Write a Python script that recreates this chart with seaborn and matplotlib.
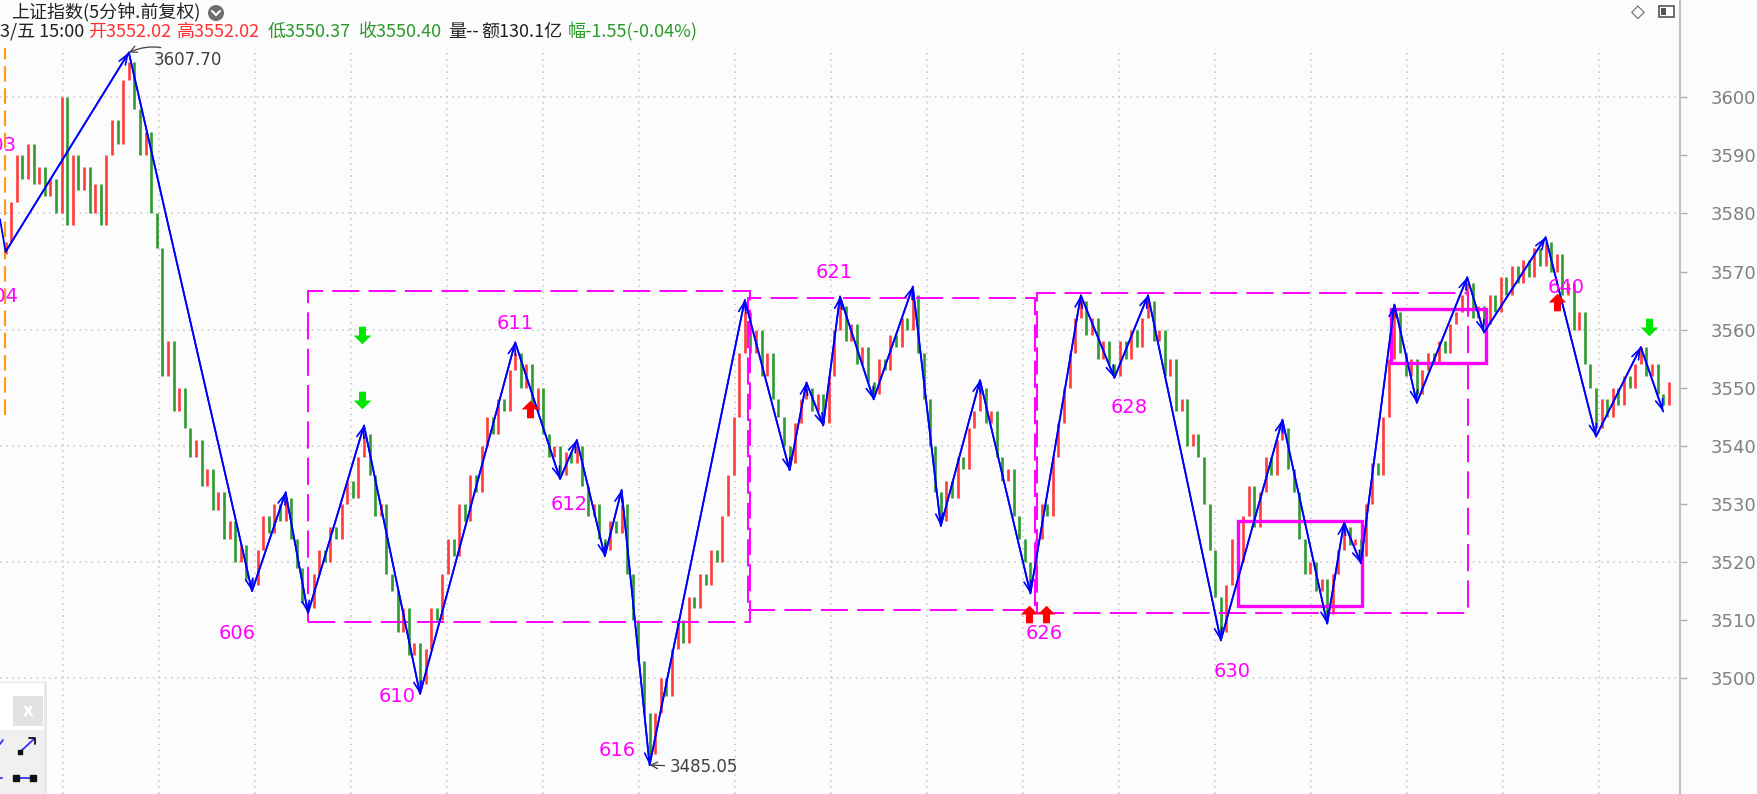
import numpy as np
import matplotlib
matplotlib.use("Agg")
import matplotlib.pyplot as plt
import seaborn as sns
from matplotlib.path import Path
from matplotlib.patches import Rectangle, Ellipse
from matplotlib.lines import Line2D

# ---------------- data ----------------
first_open = 3573.0
closes = [
    3575, 3582, 3590, 3586, 3592, 3585, 3588, 3583, 3586, 3580,
    3600, 3578, 3590, 3584, 3588, 3580, 3585, 3578, 3590, 3596,
    3592, 3603, 3606, 3598, 3590, 3594, 3580, 3574, 3552, 3558,
    3546, 3550, 3543, 3538, 3541, 3533, 3536, 3529, 3532, 3524,
    3527, 3520, 3523, 3517, 3516, 3522, 3528, 3525, 3530, 3527,
    3531, 3524, 3519, 3513, 3512, 3518, 3522, 3520, 3526, 3524,
    3530, 3534, 3531, 3538, 3542, 3535, 3528, 3530, 3518, 3515,
    3508, 3512, 3504, 3506, 3499, 3505, 3512, 3510, 3518, 3524,
    3521, 3530, 3527, 3535, 3532, 3540, 3545, 3542, 3548, 3546,
    3553, 3556, 3550, 3554, 3546, 3550, 3542, 3538, 3540, 3535,
    3539, 3537, 3540, 3533, 3528, 3530, 3524, 3522, 3527, 3525,
    3530, 3518, 3510, 3503, 3494, 3487, 3494, 3500, 3497, 3505,
    3510, 3506, 3514, 3512, 3518, 3516, 3522, 3520, 3528, 3535,
    3545, 3556, 3563, 3556, 3560, 3552, 3556, 3548, 3545, 3540,
    3537, 3544, 3548, 3550, 3546, 3549, 3544, 3552, 3560, 3564,
    3558, 3561, 3554, 3557, 3551, 3549, 3555, 3553, 3559, 3557,
    3562, 3560, 3566, 3556, 3548, 3540, 3532, 3527, 3534, 3531,
    3538, 3536, 3543, 3546, 3550, 3544, 3546, 3538, 3534, 3536,
    3528, 3524, 3520, 3516, 3524, 3530, 3528, 3538, 3544, 3550,
    3556, 3562, 3565, 3559, 3562, 3555, 3558, 3554, 3552, 3558,
    3555, 3560, 3557, 3562, 3565, 3558, 3560, 3552, 3555, 3546,
    3548, 3540, 3542, 3538, 3530, 3522, 3514, 3508, 3516, 3524,
    3520, 3528, 3533, 3526, 3532, 3538, 3535, 3541, 3543, 3536,
    3532, 3524, 3518, 3520, 3515, 3517, 3511, 3518, 3522, 3526,
    3523, 3524, 3521, 3530, 3537, 3535, 3545, 3555, 3563, 3556,
    3552, 3555, 3549, 3553, 3556, 3554, 3558, 3556, 3561, 3563,
    3566, 3568, 3562, 3564, 3561, 3566, 3563, 3569, 3566, 3571,
    3568, 3572, 3569, 3574, 3571, 3575, 3570, 3573, 3566, 3568,
    3560, 3563, 3554, 3550, 3543, 3548, 3545, 3550, 3547, 3552,
    3550, 3554, 3557, 3552, 3554, 3549, 3547, 3551,
]

# zigzag pivots (bar index, price)
pivot_bar = [-1, 0, 22, 44, 50, 54, 64, 74, 91, 99, 102, 107, 110, 115, 132, 140, 143,
             146, 149, 155, 162, 167, 174, 183, 192, 198, 204, 217, 228, 236, 239,
             242, 248, 252, 261, 264, 275, 284, 292, 296]
pivot_val = [3579.0, 3573.4, 3607.70, 3515.0, 3532.0, 3511.2, 3543.5, 3497.3, 3557.8, 3534.3,
             3541.0, 3521.0, 3532.4, 3485.05, 3565.1, 3535.8, 3550.9, 3543.5, 3565.7,
             3548.0, 3567.4, 3526.2, 3551.3, 3514.6, 3565.9, 3551.7, 3565.9, 3506.5,
             3544.5, 3509.4, 3526.8, 3519.8, 3564.3, 3547.4, 3569.0, 3559.5, 3575.9,
             3541.6, 3557.0, 3545.9]

# magenta pivot labels
label_text = ["603", "604", "606", "610", "611", "612", "616", "621", "626", "628", "630", "640"]
label_bar = [2.0, 2.4, 41.4, 70.0, 91.0, 100.6, 109.2, 148.0, 185.4, 200.6, 219.0, 278.6]
label_val = [3591.7, 3565.7, 3507.7, 3496.9, 3561.1, 3529.9, 3487.5, 3569.9, 3507.7,
             3546.6, 3501.2, 3567.2]

# dashed range boxes
dbox_left = [54.0, 132.6, 184.2]
dbox_right = [133.0, 183.8, 261.2]
dbox_low = [3509.6, 3511.8, 3511.2]
dbox_high = [3566.7, 3565.5, 3566.3]

# solid boxes
sbox_left = [220.0, 247.4]
sbox_right = [242.2, 264.4]
sbox_low = [3512.5, 3554.3]
sbox_high = [3527.0, 3563.6]

# signal arrows
buy_bar = [93.6, 182.8, 185.8, 277.0]
buy_val = [3546.4, 3511.0, 3511.0, 3564.7]
sell_bar = [63.6, 63.6, 293.4]
sell_val = [3559.0, 3547.8, 3560.5]

# extreme annotations
high_text, high_bar, high_val = "3607.70", 22, 3607.70
low_text, low_bar, low_val = "3485.05", 115, 3485.05

# orange marker line
marker_bar = -0.1
marker_low, marker_high = 3545.3, 3608.5

ytick_vals = [3500, 3510, 3520, 3530, 3540, 3550, 3560, 3570, 3580, 3590, 3600]
ygrid_vals = [3500, 3520, 3540, 3560, 3580, 3600]

header_title = "上证指数(5分钟.前复权)"
header_parts = [("3/五 15:00", "#222222"), ("开3552.02", "#ff3030"), ("高3552.02", "#ff3030"),
                ("低3550.37", "#2a9a2a"), ("收3550.40", "#2a9a2a"), ("量--", "#222222"),
                ("额130.1亿", "#222222"), ("幅-1.55(-0.04%)", "#2a9a2a")]
header_x = [0, 88, 177, 268, 359, 448, 481, 568]

# ---------------- style ----------------
sns.set_style("white")
plt.rcParams["font.family"] = ["DejaVu Sans", "Noto Sans CJK SC"]

W, H = 1757, 794
BG = "#fcfcfc"
fig = plt.figure(figsize=(W / 100, H / 100), dpi=100, facecolor=BG)
ax = fig.add_axes([0, 0, 1680 / W, 746 / H])
ax.set_facecolor(BG)

ax.set_xlim(-1, 299)
ax.set_ylim(3480.07, 3608.47)

# grid
gstep = 96 / 5.6
ax.set_xticks(np.arange(10.25, 299, gstep))
ax.set_xticklabels([])
ax.tick_params(axis="x", length=0)
ax.grid(axis="x", color="#c4c4c4", linestyle=(0, (1, 3)), linewidth=1.1)
for g in ygrid_vals:
    ax.axhline(g, color="#c4c4c4", linestyle=(0, (1, 3)), linewidth=1.1, zorder=0.5)

ax.yaxis.tick_right()
ax.set_yticks(ytick_vals)
ax.set_yticklabels([str(v) for v in ytick_vals])
ax.tick_params(axis="y", direction="out", length=5, width=1, color="#b0b0b0",
               labelcolor="#808080", labelsize=13, pad=17, right=True, left=False)
for s in ax.spines.values():
    s.set_visible(False)

# candles
c = np.array(closes, dtype=float)
o = np.concatenate([[first_open], c[:-1]])
bars = np.arange(len(c))
cols = np.where(c >= o, "#ff3b3b", "#2f9a2f")
ax.vlines(bars, np.minimum(o, c), np.maximum(o, c), colors=cols, linewidth=1.9, zorder=2)

# orange marker line
ax.vlines(marker_bar, marker_low, marker_high, colors="#ff9a1a",
          linestyles=(0, (7, 3)), linewidth=1.6, zorder=3)

# dashed boxes
for l, r, lo, hi in zip(dbox_left, dbox_right, dbox_low, dbox_high):
    ax.add_patch(Rectangle((l, lo), r - l, hi - lo, fill=False, edgecolor="#ff00ff",
                           linewidth=1.4, linestyle=(0, (14, 4.7)), zorder=3))
# solid boxes
for l, r, lo, hi in zip(sbox_left, sbox_right, sbox_low, sbox_high):
    ax.add_patch(Rectangle((l, lo), r - l, hi - lo, fill=False, edgecolor="#ff00ff",
                           linewidth=2.4, zorder=3))

# zigzag
sns.lineplot(x=pivot_bar, y=pivot_val, sort=False, estimator=None, color="#0000ff",
             linewidth=1.3, ax=ax, zorder=4)
for i in range(2, len(pivot_bar)):
    ax.annotate("", xy=(pivot_bar[i], pivot_val[i]),
                xytext=(pivot_bar[i - 1], pivot_val[i - 1]),
                arrowprops=dict(arrowstyle="->,head_length=0.6,head_width=0.22",
                                color="#0000ff", lw=1.2, shrinkA=0, shrinkB=0,
                                mutation_scale=12), zorder=4)

# labels
for t, xb, yv in zip(label_text, label_bar, label_val):
    ha = "right" if xb < 5 else "center"
    ax.text(xb, yv, t, color="#ff00ff", fontsize=14, ha=ha, va="center",
            clip_on=True, zorder=5)

# arrows
up_path = Path([(-0.4, -1), (0.4, -1), (0.4, 0), (1, 0), (0, 1), (-1, 0), (-0.4, 0), (-0.4, -1)])
down_path = Path([(x, -y) for x, y in up_path.vertices])
ax.scatter(buy_bar, buy_val, marker=up_path, s=160, color="#ff0000", linewidths=0, zorder=6)
ax.scatter(sell_bar, sell_val, marker=down_path, s=160, color="#00e600", linewidths=0, zorder=6)

# extreme annotations
ax.annotate(high_text, xy=(high_bar, high_val), xytext=(high_bar + 4.5, high_val - 1.3),
            fontsize=12, color="#404040", va="center", ha="left",
            arrowprops=dict(arrowstyle="->", color="#404040", lw=0.9, shrinkA=1, shrinkB=0,
                            connectionstyle="arc3,rad=0.3"), zorder=6)
ax.annotate(low_text, xy=(low_bar, low_val), xytext=(low_bar + 3.5, low_val - 0.35),
            fontsize=12, color="#404040", va="center", ha="left",
            arrowprops=dict(arrowstyle="->", color="#404040", lw=0.9, shrinkA=1, shrinkB=0),
            zorder=6)

# ---------------- figure chrome ----------------
def fx(px):
    return px / W

def fy(py):
    return 1 - py / H

# right border line
fig.add_artist(Line2D([fx(1680), fx(1680)], [0, 1], color="#c0c0c0", lw=1.5))

# header
cjk = ["Noto Sans CJK SC", "DejaVu Sans"]
fig.text(fx(11), fy(13), header_title, color="#222222", fontsize=13, family=cjk,
         ha="left", va="center")
fig.add_artist(Ellipse((fx(216), fy(13)), 16 / W, 16 / H, transform=fig.transFigure,
                       facecolor="#6e6e6e", edgecolor="none"))
fig.add_artist(Line2D([fx(212), fx(216), fx(220)], [fy(11), fy(15), fy(11)],
                      color="white", lw=1.5))
for (t, col), x in zip(header_parts, header_x):
    fig.text(fx(x), fy(32), t, color=col, fontsize=13, family=cjk, ha="left", va="center")

# top-right icons
fig.text(fx(1638), fy(12), "◇", color="#555555", fontsize=13, ha="center", va="center")
fig.add_artist(Rectangle((fx(1659), fy(17)), 15 / W, 11 / H, transform=fig.transFigure,
                         facecolor="white", edgecolor="#555555", lw=1.2))
fig.add_artist(Rectangle((fx(1661), fy(15)), 5 / W, 7 / H, transform=fig.transFigure,
                         facecolor="#555555", edgecolor="none"))

# bottom-left tool panel
fig.add_artist(Rectangle((fx(0), fy(794)), 47 / W, 112 / H, transform=fig.transFigure,
                         facecolor="#dcdcdc", edgecolor="none", alpha=0.6))
fig.add_artist(Rectangle((fx(0), fy(794)), 44 / W, 111 / H, transform=fig.transFigure,
                         facecolor="#f0f0f0", edgecolor="none"))
fig.add_artist(Rectangle((fx(0), fy(730)), 44 / W, 47 / H, transform=fig.transFigure,
                         facecolor="#ffffff", edgecolor="none"))
fig.add_artist(Rectangle((fx(13), fy(726)), 30 / W, 30 / H, transform=fig.transFigure,
                         facecolor="#e2e2e2", edgecolor="none"))
fig.text(fx(28), fy(711), "x", color="white", fontsize=12, fontweight="bold",
         ha="center", va="center")
fig.add_artist(Line2D([fx(20), fx(34)], [fy(752), fy(739)], color="#3030ff", lw=1.3))
fig.add_artist(Line2D([fx(29), fx(35), fx(35)], [fy(738), fy(738), fy(744)], color="#111111", lw=1.3))
fig.add_artist(Line2D([fx(20)], [fy(752)], marker="s", color="#111111", markersize=3))
fig.add_artist(Line2D([fx(16), fx(33)], [fy(778), fy(778)], color="#3030ff", lw=1.3))
fig.add_artist(Line2D([fx(16), fx(33)], [fy(778), fy(778)], marker="s", lw=0,
                      color="#111111", markersize=4))
fig.add_artist(Line2D([fx(0), fx(3)], [fy(744), fy(740)], color="#3030ff", lw=1.3))
fig.add_artist(Line2D([fx(0), fx(2)], [fy(778), fy(778)], color="#3030ff", lw=1.3))

fig.savefig("out.png", dpi=100, facecolor=BG)
